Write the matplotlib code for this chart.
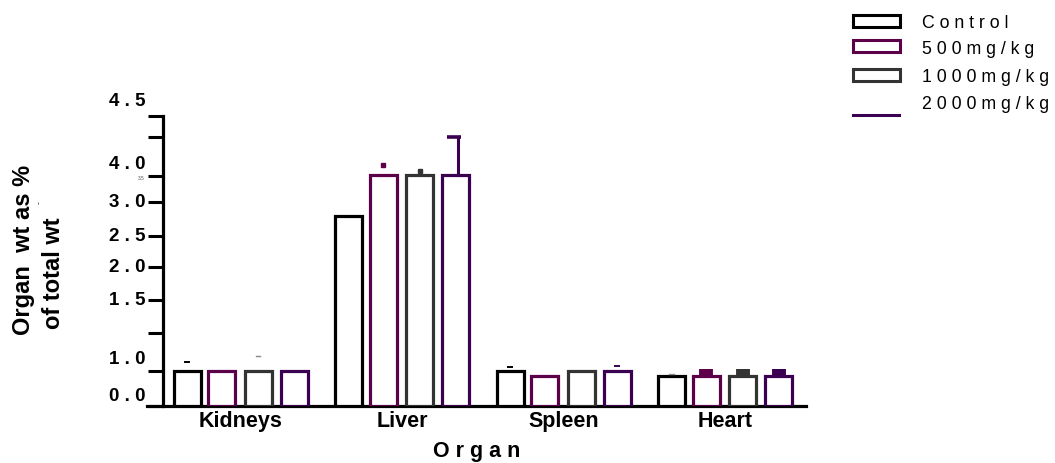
import matplotlib
matplotlib.use("Agg")
import matplotlib.pyplot as plt
from matplotlib.patches import Rectangle
from matplotlib.lines import Line2D
import numpy as np

plt.rcParams['font.family'] = ['Liberation Sans', 'DejaVu Sans']

# ---------------- data ----------------
organs = ["Kidneys", "Liver", "Spleen", "Heart"]
series = ["Control", "500mg/kg", "1000mg/kg", "2000mg/kg"]
control = [0.54, 2.95, 0.54, 0.47]
dose500 = [0.54, 3.59, 0.47, 0.47]
dose1000 = [0.54, 3.59, 0.54, 0.47]
dose2000 = [0.54, 3.59, 0.54, 0.47]
err_control = [0.14, 0.0, 0.06, 0.03]
err_500 = [0.0, 0.15, 0.0, 0.10]
err_1000 = [0.24, 0.06, 0.0, 0.10]
err_2000 = [0.0, 0.59, 0.08, 0.10]
ytick_values = [0.0, 0.54, 1.13, 1.65, 2.16, 2.64, 3.17, 3.57, 4.18, 4.5]
ytick_labels = ["0.0", "1.0", "", "1.5", "2.0", "2.5", "3.0", "4.0", "", "4.5"]

values = [control, dose500, dose1000, dose2000]
errors = [err_control, err_500, err_1000, err_2000]
colors = ["#000000", "#5c004a", "#333333", "#3b0052"]

W, H = 1055, 464
fig = plt.figure(figsize=(W / 100, H / 100), dpi=100)

# axes placement in pixels
ax_l, ax_r, ax_b, ax_t = 147, 806, 407, 117
ax = fig.add_axes([ax_l / W, (H - ax_b) / H, (ax_r - ax_l) / W, (ax_b - ax_t) / H])

group_px = 161.5
x0 = 240.5
ax.set_xlim((ax_l - x0) / group_px, (ax_r - x0) / group_px)
ax.set_ylim(0, 4.5)

offsets = np.array([-53.5, -19.0, 17.5, 53.5]) / group_px
bw = 27.0 / group_px
lw_bar = 2.3
x = np.arange(len(organs))

for si in range(len(series)):
    xs = x + offsets[si]
    ax.bar(xs, values[si], width=bw, facecolor="white", edgecolor=colors[si],
           linewidth=lw_bar, zorder=3)

# error bars (upper only)
for si in range(len(series)):
    for oi in range(len(organs)):
        e = errors[si][oi]
        if e <= 0:
            continue
        xc = x[oi] + offsets[si]
        v = values[si][oi]
        col = colors[si]
        if organs[oi] == "Heart" and si > 0:
            ax.plot([xc, xc], [v, v + e], color=col, lw=10, solid_capstyle="butt",
                    zorder=4)
        elif organs[oi] == "Liver" and si == 3:
            xe = xc + 2.0 / group_px
            ax.plot([xe, xe], [v, v + e], color=col, lw=2.2, zorder=4,
                    clip_on=False)
            ax.plot([xe - 10.5 / group_px, xe + 3.0 / group_px], [v + e, v + e],
                    color=col, lw=2.6, solid_capstyle="butt", zorder=4,
                    clip_on=False)
        elif organs[oi] == "Liver":
            ax.plot([xc], [v + e], marker="s", ms=3.5, color=col, mec=col,
                    zorder=4, clip_on=False)
        else:
            c = col if not (si == 2 or (organs[oi] == "Heart")) else "#888888"
            ax.plot([xc - 0.015, xc + 0.015], [v + e, v + e], color=c,
                    lw=1.4 if c != "#888888" else 1.0, zorder=4)

# spines
for s in ["top", "right"]:
    ax.spines[s].set_visible(False)
ax.spines["left"].set_position(("axes", (163 - ax_l) / (ax_r - ax_l)))
ax.spines["left"].set_linewidth(2.3)
ax.spines["bottom"].set_linewidth(2.3)
ax.spines["left"].set_bounds(0, 4.5)

ax.set_yticks(ytick_values)
ax.set_yticklabels([])
ax.tick_params(axis="y", length=11, width=2.2, direction="out")
ax.set_xticks(x)
ax.set_xticklabels(organs, fontsize=15.5, fontweight="bold")
ax.tick_params(axis="x", length=0, pad=3)

# y tick labels (letter spaced, offset like the reference)
label_y = {"0.0": 0.17, "1.0": 0.73, "1.5": 1.66, "2.0": 2.16, "2.5": 2.64,
           "3.0": 3.17, "4.0": 3.77, "4.5": 4.74}
ytr = ax.get_yaxis_transform()
for lab in ytick_labels:
    if not lab:
        continue
    ax.text(-0.003, label_y[lab], " ".join(lab), transform=ytr, ha="right",
            va="center", fontsize=13.5, fontweight="bold", clip_on=False)
ax.text(-0.003, 3.55, "3.5", transform=ytr, ha="right", va="center",
        fontsize=3.5, color="#555555", clip_on=False)

# axis titles
fig.text(477 / W, 1 - 452 / H, " ".join("Organ"), ha="center", va="center",
         fontsize=15.5, fontweight="bold")
fig.text(24 / W, 1 - 250 / H, "Organ  wt as %", rotation=90, ha="center",
         va="center", fontsize=17, fontweight="bold")
fig.text(53 / W, 1 - 273 / H, "of total wt", rotation=90, ha="center",
         va="center", fontsize=17, fontweight="bold")
fig.text(39 / W, 1 - 203 / H, "-", rotation=90, ha="center", va="center",
         fontsize=6, fontweight="bold", color="#444444")

# legend (manual)
box_y = [22, 47, 76]
for i in range(3):
    fig.add_artist(Rectangle((853 / W, 1 - (box_y[i] + 6) / H), 47 / W, 12 / H,
                             transform=fig.transFigure, facecolor="white",
                             edgecolor=colors[i], linewidth=2.2))
fig.add_artist(Line2D([853 / W, 899 / W], [1 - 116 / H, 1 - 116 / H],
                      transform=fig.transFigure, color=colors[3], lw=2.2))
text_y = [24, 50, 78, 105]
for i, name in enumerate(series):
    fig.text(922 / W, 1 - text_y[i] / H, " ".join(name), ha="left", va="center",
             fontsize=12.8)

fig.savefig("out.png", dpi=100)
